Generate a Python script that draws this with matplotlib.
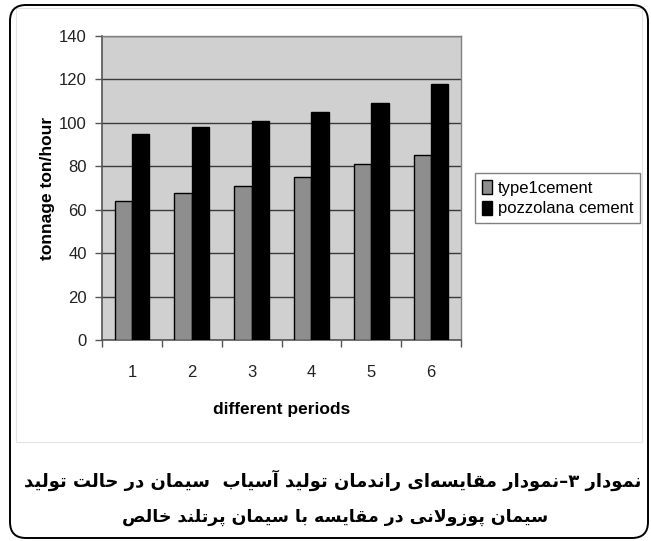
import matplotlib
matplotlib.use("Agg")
import matplotlib.pyplot as plt
from matplotlib.patches import FancyBboxPatch, Rectangle
import numpy as np

# chart data
periods = [1, 2, 3, 4, 5, 6]
type1_cement = [64, 67.5, 71, 75, 81, 85]
pozzolana_cement = [95, 98, 101, 105, 109, 118]
series_names = ["type1cement", "pozzolana cement"]
y_ticks = [0, 20, 40, 60, 80, 100, 120, 140]

caption_1 = "نمودار ۳–نمودار مقایسه\u200cای راندمان تولید آسیاب  سیمان در حالت تولید"
caption_2 = "سیمان پوزولانی در مقایسه با سیمان پرتلند خالص"

# presentation forms (isolated, final, initial, medial) for the letters used
FORMS = {
    "ا": ("\uFE8D", "\uFE8E", None, None),
    "آ": ("\uFE81", "\uFE82", None, None),
    "ب": ("\uFE8F", "\uFE90", "\uFE91", "\uFE92"),
    "پ": ("\uFB56", "\uFB57", "\uFB58", "\uFB59"),
    "ت": ("\uFE95", "\uFE96", "\uFE97", "\uFE98"),
    "ح": ("\uFEA1", "\uFEA2", "\uFEA3", "\uFEA4"),
    "خ": ("\uFEA5", "\uFEA6", "\uFEA7", "\uFEA8"),
    "د": ("\uFEA9", "\uFEAA", None, None),
    "ر": ("\uFEAD", "\uFEAE", None, None),
    "ز": ("\uFEAF", "\uFEB0", None, None),
    "س": ("\uFEB1", "\uFEB2", "\uFEB3", "\uFEB4"),
    "ص": ("\uFEB9", "\uFEBA", "\uFEBB", "\uFEBC"),
    "ق": ("\uFED5", "\uFED6", "\uFED7", "\uFED8"),
    "ل": ("\uFEDD", "\uFEDE", "\uFEDF", "\uFEE0"),
    "م": ("\uFEE1", "\uFEE2", "\uFEE3", "\uFEE4"),
    "ن": ("\uFEE5", "\uFEE6", "\uFEE7", "\uFEE8"),
    "ه": ("\uFEE9", "\uFEEA", "\uFEEB", "\uFEEC"),
    "و": ("\uFEED", "\uFEEE", None, None),
    "ی": ("\uFBFC", "\uFBFD", "\uFBFE", "\uFBFF"),
}
LAM_ALEF = {"ا": ("\uFEFB", "\uFEFC"), "آ": ("\uFEF5", "\uFEF6")}


def dual(c):
    return c in FORMS and FORMS[c][2] is not None


def shape(text):
    # join letters and put them in left-to-right drawing order
    out = []
    i = 0
    while i < len(text):
        ch = text[i]
        if ch not in FORMS:
            if ch != "\u200c":
                out.append(ch)
            i += 1
            continue
        prev = text[i - 1] if i > 0 else ""
        nxt = text[i + 1] if i + 1 < len(text) else ""
        joined_before = dual(prev)
        if ch == "ل" and nxt in LAM_ALEF:
            out.append(LAM_ALEF[nxt][1 if joined_before else 0])
            i += 2
            continue
        joined_after = dual(ch) and nxt in FORMS
        f = FORMS[ch]
        if joined_before and joined_after:
            out.append(f[3])
        elif joined_before:
            out.append(f[1])
        elif joined_after:
            out.append(f[2])
        else:
            out.append(f[0])
        i += 1
    return "".join(reversed(out))


plt.rcParams["font.family"] = ["Liberation Sans", "DejaVu Sans"]

W, H = 651, 541
fig = plt.figure(figsize=(W / 100, H / 100), dpi=100)

# background layer in pixel units for the frame and captions
bg = fig.add_axes([0, 0, 1, 1], zorder=-1)
bg.set_xlim(0, W)
bg.set_ylim(H, 0)
bg.axis("off")
bg.add_patch(Rectangle((16, 8), 626, 434, fill=False, ec="#e4e4e4", lw=0.8))
bg.add_patch(FancyBboxPatch((10, 5), 638, 533, boxstyle="round,pad=0,rounding_size=16",
                            fill=False, ec="black", lw=1.4))

ax = fig.add_axes([102 / W, 1 - 340 / H, 359 / W, 304 / H])
ax.set_facecolor("#d0d0d0")

x = np.array(periods)
w = 0.29
ax.bar(x - w / 2, type1_cement, w, color="#8e8e8e", edgecolor="black", lw=1, zorder=3,
       label=series_names[0])
ax.bar(x + w / 2, pozzolana_cement, w, color="black", edgecolor="black", lw=1, zorder=3,
       label=series_names[1])

ax.set_xlim(0.5, 6.5)
ax.set_ylim(0, 140)
ax.set_yticks(y_ticks)
ax.yaxis.grid(True, color="#3a3a3a", lw=1)
ax.set_axisbelow(True)

ax.set_xticks(x)
ax.set_xticklabels([str(p) for p in periods])
ax.set_xticks(np.arange(0.5, 7, 1), minor=True)
ax.tick_params(axis="x", which="major", length=0, pad=18, labelsize=12, colors="#222")
ax.tick_params(axis="x", which="minor", length=5, width=1, color="#555")
ax.tick_params(axis="y", length=5, width=1, color="#555", pad=6, labelsize=12,
               labelcolor="#222")

for s in ["top", "right"]:
    ax.spines[s].set_color("#808080")
    ax.spines[s].set_linewidth(1)
for s in ["left", "bottom"]:
    ax.spines[s].set_color("#555")
    ax.spines[s].set_linewidth(1.2)

ax.set_ylabel("tonnage ton/hour", fontsize=12.5, fontweight="bold", labelpad=3)
ax.set_xlabel("different periods", fontsize=12.5, fontweight="bold", labelpad=16)

fig.legend(loc="lower left", bbox_to_anchor=(475 / W, 1 - 223 / H), fontsize=12,
           frameon=True, fancybox=False, edgecolor="#808080", framealpha=1,
           handlelength=0.6, handleheight=0.9, handletextpad=0.35, borderpad=0.4,
           labelspacing=0.3, borderaxespad=0)

cap_font = dict(fontweight="bold", family=["DejaVu Sans"], ha="center", va="center")
bg.text(333, 480, shape(caption_1), fontsize=13, **cap_font)
bg.text(335, 517, shape(caption_2), fontsize=12.5, **cap_font)

fig.savefig("out.png", dpi=100)
